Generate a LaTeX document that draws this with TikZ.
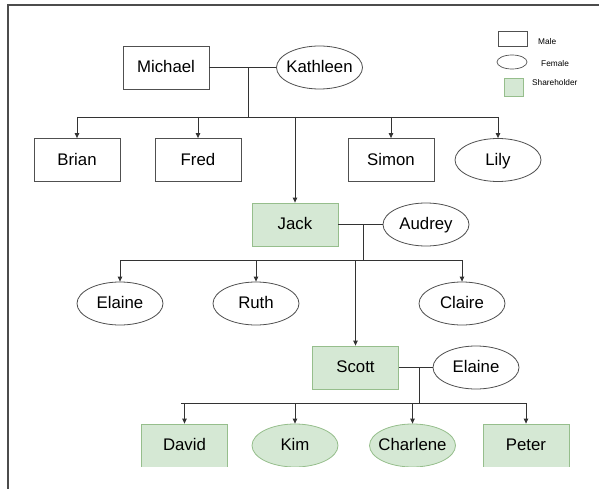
\documentclass[tikz,border=0pt]{standalone}
\usepackage{fontspec}
\setmainfont{Liberation Sans}
\usetikzlibrary{shapes.geometric,arrows.meta}
\definecolor{linec}{RGB}{51,51,51}
\definecolor{boxc}{RGB}{80,80,80}
\definecolor{shfill}{RGB}{213,232,212}
\definecolor{shdraw}{RGB}{150,190,140}
\tikzset{
  male/.style={draw=boxc, line width=0.8pt, fill=white, minimum width=86pt, minimum height=43pt, inner sep=0pt, text height=13pt, text depth=3pt, font=\fontsize{16.8}{19}\selectfont},
  female/.style={ellipse, draw=boxc, line width=0.8pt, fill=white, minimum width=86pt, minimum height=43pt, inner xsep=-12pt, inner ysep=0pt, text height=13pt, text depth=3pt, font=\fontsize{16.8}{19}\selectfont},
  share/.style={fill=shfill, draw=shdraw},
  conn/.style={draw=linec, line width=0.8pt},
  arr/.style={conn, -{Triangle[length=5pt,width=4.5pt]}},
  legtext/.style={anchor=west, inner sep=0pt, font=\fontsize{8.3}{10}\selectfont},
}
\begin{document}
\begin{tikzpicture}[x=1pt,y=-1pt]
\useasboundingbox (0,0) rectangle (599,489);
% frame
\draw[draw=black!70, line width=1.3pt] (599,5) -- (8,5) -- (8,489);

% legend
\node[draw=boxc, line width=0.7pt, minimum width=29pt, minimum height=15pt, inner sep=0pt] (lmale) at (512.5,38.5) {};
\node[legtext] (tmale) at (538,42) {Male};
\node[ellipse, draw=boxc, line width=0.7pt, minimum width=30pt, minimum height=14pt, inner sep=0pt] (lfem) at (512,62) {};
\node[legtext] (tfem) at (541,63.5) {Female};
\node[share, line width=0.7pt, minimum width=19pt, minimum height=18pt, inner sep=0pt] (lsh) at (513.5,87) {};
\node[legtext] (tsh) at (532,83) {Shareholder};

% generation 1
\node[male] (michael) at (166,67.5) {Michael};
\node[female] (kathleen) at (319.5,67.5) {Kathleen};
\draw[conn] (michael.east) -- (kathleen.west);
\coordinate (j1) at (248,67.5);
\coordinate (b1) at (248,117);

% generation 2
\node[male] (brian) at (77,160) {Brian};
\node[male] (fred) at (198,160) {Fred};
\node[male] (simon) at (391,160) {Simon};
\node[female] (lily) at (498,160) {Lily};
\node[male, share] (jack) at (295,224.5) {Jack};
\node[female] (audrey) at (426,224.5) {Audrey};

\draw[conn] (j1) -- (b1);
\draw[conn] (brian.north |- b1) -- (lily.north |- b1);
\draw[arr] (brian.north |- b1) -- (brian.north);
\draw[arr] (fred.north |- b1) -- (fred.north);
\draw[arr] (simon.north |- b1) -- (simon.north);
\draw[arr] (lily.north |- b1) -- (lily.north);
\draw[arr] (jack.north |- b1) -- (jack.north);

\draw[conn] (jack.east) -- (audrey.west);
\coordinate (j2) at (363,224.5);
\coordinate (b2) at (363,260);

% generation 3
\node[female] (elaine1) at (120,303.5) {Elaine};
\node[female] (ruth) at (256,303.5) {Ruth};
\node[female] (claire) at (462,303.5) {Claire};
\node[male, share] (scott) at (355.5,367.5) {Scott};
\node[female] (elaine2) at (476,367.5) {Elaine};

\draw[conn] (j2) -- (b2);
\draw[conn] (elaine1.north |- b2) -- (claire.north |- b2);
\draw[arr] (elaine1.north |- b2) -- (elaine1.north);
\draw[arr] (ruth.north |- b2) -- (ruth.north);
\draw[arr] (claire.north |- b2) -- (claire.north);
\draw[arr] (scott.north |- b2) -- (scott.north);

\draw[conn] (scott.east) -- (elaine2.west);
\coordinate (j3) at (419,367.5);
\coordinate (b3) at (419,403);
\coordinate (b3l) at (181,403);

% generation 4 (cut off at the bottom)
\begin{scope}
\clip (9,0) rectangle (599,466.5);
\node[male, share] (david) at (184.5,445.5) {David};
\node[female, share] (kim) at (295,445.5) {Kim};
\node[female, share] (charlene) at (412.5,445.5) {Charlene};
\node[male, share] (peter) at (526,445.5) {Peter};
\end{scope}

\draw[conn] (j3) -- (b3);
\draw[conn] (b3l) -- (peter.north |- b3);
\draw[arr] (david.north |- b3) -- (david.north);
\draw[arr] (kim.north |- b3) -- (kim.north);
\draw[arr] (charlene.north |- b3) -- (charlene.north);
\draw[arr] (peter.north |- b3) -- (peter.north);
\end{tikzpicture}
\end{document}
